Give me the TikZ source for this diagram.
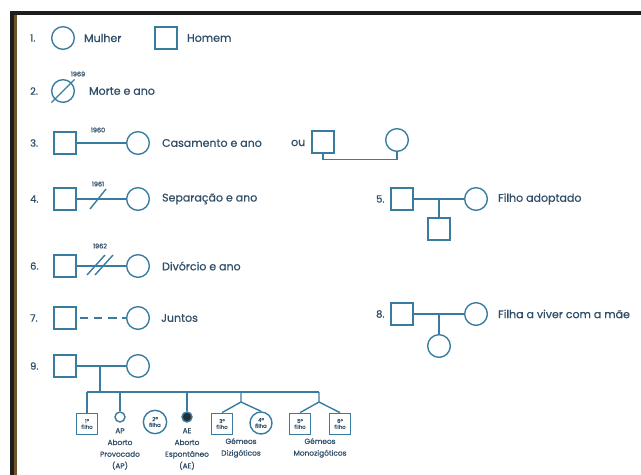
\documentclass[tikz,border=0pt]{standalone}
\usepackage{fontspec}
\setmainfont{Poppins}[FakeBold=0.6]
\definecolor{linha}{RGB}{58,124,160}
\definecolor{texto}{RGB}{48,78,104}
\definecolor{moldura}{RGB}{30,28,28}
\definecolor{castanho}{RGB}{115,82,40}
\begin{document}
\begin{tikzpicture}[x=0.03cm, y=-0.03cm,
  homem/.style={draw=linha, line width=1.2pt, rectangle, minimum size=0.66cm, inner sep=0pt},
  mulher/.style={draw=linha, line width=1.2pt, circle, minimum size=0.68cm, inner sep=0pt},
  feto/.style={draw=linha, line width=1.2pt, circle, minimum size=0.3cm, inner sep=0pt},
  num/.style={anchor=west, text=texto, font=\fontsize{8.5}{9}\selectfont},
  legenda/.style={anchor=west, text=texto, font=\fontsize{9.4}{10}\selectfont},
  ano/.style={text=texto, font=\fontsize{5.5}{6}\selectfont},
  dentro/.style={text=texto, align=center, font=\fontsize{4.6}{5}\selectfont},
  nota/.style={anchor=north, text=texto, align=center, font=\fontsize{6.3}{10}\selectfont},
  liga/.style={draw=linha, line width=1.2pt}
]
  \useasboundingbox (0,0) rectangle (641,475);
  \fill[white] (0,0) rectangle (641,475);
  \draw[moldura, line width=4pt] (10,13) -- (641,13);
  \draw[moldura, line width=4pt] (12,11) -- (12,475);
  \draw[castanho, line width=2.2pt] (15.5,15) -- (15.5,475);

  \node[num] (n1) at (26,38) {1.};
  \node[mulher] (m1) at (63,38) {};
  \node[legenda] (l1a) at (80,38) {Mulher};
  \node[homem] (h1) at (166,38) {};
  \node[legenda] (l1b) at (183,38) {Homem};

  \node[num] (n2) at (26,91) {2.};
  \node[mulher] (m2) at (63,91) {};
  \node[ano] (a2) at (78,74) {1969};
  \node[legenda] (l2) at (85,91) {Morte e ano};
  \draw[liga] ([shift={(-3,3)}]m2.south west) -- ([shift={(3,-3)}]m2.north east);

  \node[num] (n3) at (26,143) {3.};
  \node[homem] (h3) at (65,143) {};
  \node[mulher] (m3) at (138,143) {};
  \node[ano] (a3) at (98,130) {1960};
  \node[legenda] (l3) at (158,143) {Casamento e ano};
  \draw[liga] (h3) -- (m3);
  \node[legenda] (ou) at (287,143) {ou};
  \node[homem] (ou1) at (323,142) {};
  \node[mulher] (ou2) at (397,140) {};
  \draw[liga] (ou1.south) -- ++(0,6) -| (ou2.south);

  \node[num] (n4) at (26,199) {4.};
  \node[homem] (h4) at (65,199) {};
  \node[mulher] (m4) at (138,199) {};
  \node[ano] (a4) at (98,184) {1961};
  \node[legenda] (l4) at (158,199) {Separação e ano};
  \draw[liga] (h4) -- (m4);
  \coordinate (s4) at (98,199);
  \draw[liga] ([shift={(-8,10)}]s4) -- ([shift={(8,-10)}]s4);

  \node[num] (n5) at (372,199) {5.};
  \node[homem] (h5) at (402,199) {};
  \node[mulher] (m5) at (476,199) {};
  \node[homem] (f5) at (439,229) {};
  \node[legenda] (l5) at (494,199) {Filho adoptado};
  \draw[liga] (h5) -- (m5);
  \draw[liga] (f5.north) -- (f5.north |- h5);

  \node[num] (n6) at (26,266) {6.};
  \node[homem] (h6) at (65,266) {};
  \node[mulher] (m6) at (138,266) {};
  \node[ano] (a6) at (100,246) {1962};
  \node[legenda] (l6) at (158,266) {Divórcio e ano};
  \draw[liga] (h6) -- (m6);
  \coordinate (s6) at (100,265);
  \draw[liga] ([shift={(-13,10)}]s6) -- ([shift={(5,-10)}]s6);
  \draw[liga] ([shift={(-5,10)}]s6) -- ([shift={(13,-10)}]s6);

  \node[num] (n7) at (26,318) {7.};
  \node[homem] (h7) at (65,318) {};
  \node[mulher] (m7) at (138,318) {};
  \node[legenda] (l7) at (157,318) {Juntos};
  \draw[liga, dash pattern=on 7pt off 5pt, dash phase=-3pt] (h7) -- (m7);

  \node[num] (n8) at (372,314) {8.};
  \node[homem] (h8) at (402,314) {};
  \node[mulher] (m8) at (476,314) {};
  \node[mulher] (f8) at (439,346) {};
  \node[legenda] (l8) at (494,314) {Filha a viver com a mãe};
  \draw[liga] (h8) -- (m8);
  \draw[liga] (f8.north) -- (f8.north |- h8);

  \node[num] (n9) at (26,366) {9.};
  \node[homem] (h9) at (65,366) {};
  \node[mulher] (m9) at (138,366) {};
  \draw[liga] (h9) -- (m9);
  \coordinate (p9) at (100,366);
  \coordinate (g9) at (100,392);
  \coordinate (g1) at (87,392);
  \coordinate (g2) at (120,392);
  \coordinate (g4) at (187,392);
  \coordinate (g5) at (241,392);
  \coordinate (g6) at (319,392);
  \coordinate (t5) at (241,402);
  \coordinate (t6) at (319,402);
  \draw[liga] (p9) -- (g9);
  \draw[liga] (g1) -- (g6);

  \node[homem, minimum size=0.64cm, dentro] (c1) at (87,424) {1º\\filho};
  \node[feto] (ap) at (120,417) {};
  \node[mulher, minimum size=0.7cm, dentro] (c2) at (155,422) {2ª\\filha};
  \node[feto, fill=moldura!80!linha] (ae) at (187,417) {};
  \node[homem, minimum size=0.64cm, dentro] (c3) at (222,424) {3º\\filho};
  \node[mulher, minimum size=0.66cm, dentro] (c4) at (261,423) {4ª\\filha};
  \node[homem, minimum size=0.64cm, dentro] (c5) at (300,424) {5º\\filho};
  \node[homem, minimum size=0.64cm, dentro] (c6) at (340,424) {6º\\filho};
  \draw[liga] (g1) -- (c1.north);
  \draw[liga] (g2) -- (ap.north);
  \draw[liga] (g4) -- (ae.north);
  \draw[liga] (g5) -- (t5) -- (c3.north);
  \draw[liga] (t5) -- (c4.north);
  \draw[liga] (g6) -- (t6) -- (c5.north);
  \draw[liga] (t6) -- (c6.north);

  \node[nota] (x2) at (120,424) {AP\\Aborto\\Provocado\\(AP)};
  \node[nota] (x4) at (187,424) {AE\\Aborto\\Espontâneo\\(AE)};
  \node[nota] (x5) at (241,434) {Gémeos\\Dizigóticos};
  \node[nota] (x6) at (320,434) {Gémeos\\Monozigóticos};
\end{tikzpicture}
\end{document}
